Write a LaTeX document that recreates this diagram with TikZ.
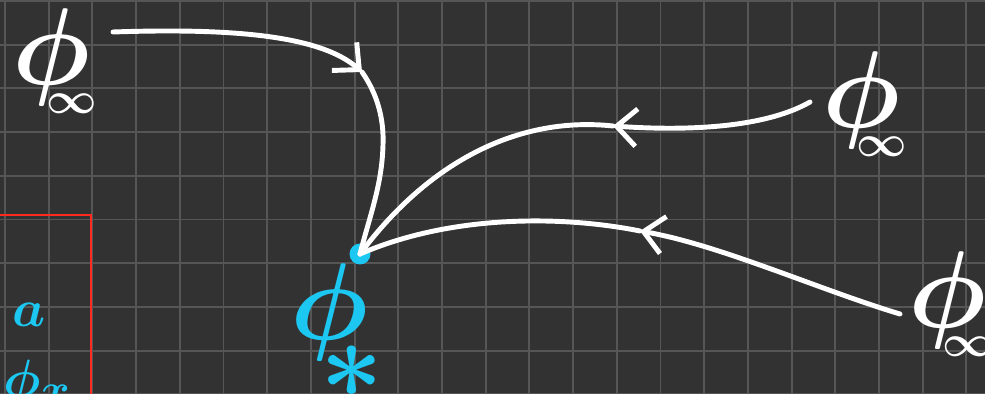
\documentclass[tikz,border=0pt]{standalone}
\usepackage{amsmath,amssymb}
\usetikzlibrary{arrows.meta}
\definecolor{nbback}{HTML}{323232}
\definecolor{nbgrid}{HTML}{565656}
\definecolor{nbink}{HTML}{FFFFFF}
\definecolor{nbcyan}{HTML}{1CC8F2}
\definecolor{nbred}{HTML}{FF2A1F}
\newcommand{\phiinf}{{\Huge$\boldsymbol{\phi}$}\kern-10pt\raisebox{-6.4pt}{\normalsize$\boldsymbol{\infty}$}}
\newcommand{\phistar}{{\Huge$\boldsymbol{\phi}$}\kern-11pt\raisebox{-13.2pt}{\Huge$\boldsymbol{\ast}$}}
\tikzset{
  gridline/.style={draw=nbgrid,line width=1.1pt},
  flow/.style={draw=nbink,line width=2.8pt,line cap=round},
  flowtip/.style={flow,-{Straight Barb[length=4mm,width=7.5mm]}},
  hand/.style={text=nbink,inner sep=0pt,anchor=base west,scale=2.5},
  note/.style={text=nbcyan,inner sep=0pt,anchor=base west,scale=1.2},
  fixpt/.style={circle,fill=nbcyan,minimum size=4.2mm,inner sep=0pt},
  box/.style={draw=nbred,line width=1.7pt},
}

\begin{document}
\begin{tikzpicture}[x=0.02cm,y=-0.02cm]
  \useasboundingbox (0,0) rectangle (985,394);
  \clip (0,0) rectangle (985,394);
  \fill[nbback] (0,0) rectangle (985,394);
  \foreach \gx in {0,...,22} \draw[gridline] ({5+43.7*\gx},0) -- ({5+43.7*\gx},394);
  \foreach \gy in {0,...,9} \draw[gridline] (0,{1+43.7*\gy}) -- (985,{1+43.7*\gy});

  \draw[box] (-20,215) rectangle (91,420);
  \node[note] (ta) at (12,327) {\Huge$\boldsymbol{a}$};
  \node[note] (tphix) at (3,397) {\Huge$\boldsymbol{\phi_x}$};

  \node[hand] (inftl) at (12,85) {\phiinf};
  \node[hand] (inftr) at (822,128) {\phiinf};
  \node[hand] (infbr) at (908,328) {\phiinf};
  \node[hand,text=nbcyan] (tstar) at (290,340) {\phistar};

  \coordinate (s1) at (113,32);
  \coordinate (s2) at (810,102);
  \coordinate (s3) at (900,314);
  \coordinate (m1) at (362,72);
  \coordinate (m2) at (613,126);
  \coordinate (m3) at (640,231);
  \node[fixpt] (fix) at (360,254) {};

  \draw[flowtip] (s1) .. controls (230,28) and (320,35) .. (m1);
  \draw[flow] (m1) .. controls (378,95) and (384,120) .. (383,145) .. controls (382,185) and (370,215) .. (fix.center);
  \draw[flowtip] (s2) .. controls (770,125) and (700,132) .. (m2);
  \draw[flow] (m2) .. controls (520,116) and (430,160) .. (fix.center);
  \draw[flowtip] (s3) .. controls (820,290) and (720,245) .. (m3);
  \draw[flow] (m3) .. controls (560,215) and (450,215) .. (fix.center);
\end{tikzpicture}
\end{document}
